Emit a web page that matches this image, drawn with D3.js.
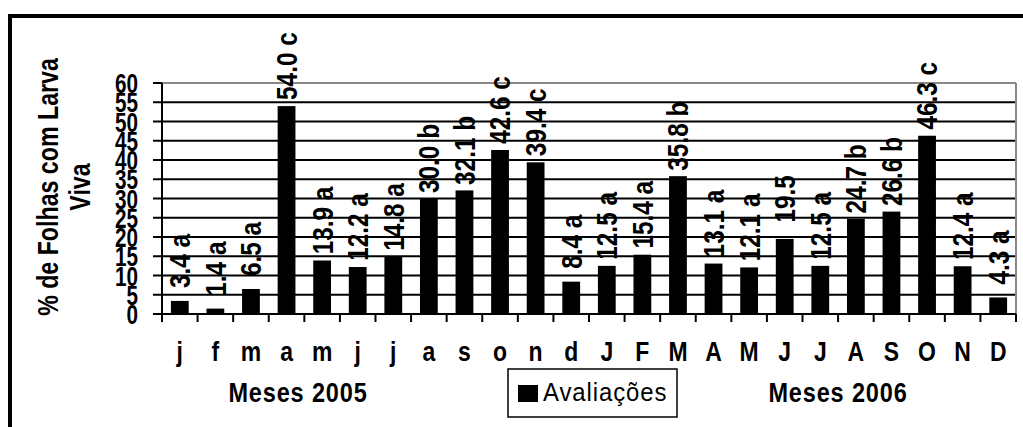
<!DOCTYPE html>
<html>
<head>
<meta charset="utf-8">
<script src="https://cdn.jsdelivr.net/npm/d3@7"></script>
<style>
  html, body { margin: 0; padding: 0; background: #fff; }
  svg { display: block; }
  text { font-family: "Liberation Sans", Arial, sans-serif; fill: #000; }
</style>
</head>
<body>
<svg id="chart" width="1023" height="427"></svg>
<script>
// ---- data ----
const months = ["j","f","m","a","m","j","j","a","s","o","n","d",
                "J","F","M","A","M","J","J","A","S","O","N","D"];
const values = [3.4,1.4,6.5,54.0,13.9,12.2,14.8,30.0,32.1,42.6,39.4,8.4,
                12.5,15.4,35.8,13.1,12.1,19.5,12.5,24.7,26.6,46.3,12.4,4.3];
const letters = ["a","a","a","c","a","a","a","b","b","c","c","a",
                 "a","a","b","a","a","","a","b","b","c","a","a"];
const yTicks = [0,5,10,15,20,25,30,35,40,45,50,55,60];
const yTitle = ["% de Folhas com Larva", "Viva"];
const groupTitles = ["Meses 2005", "Meses 2006"];
const legendLabel = "Avaliações";

// ---- layout ----
const svg = d3.select("#chart");
const L = 162, R = 1016, T = 83, B = 314;
const ids = months.map((m, i) => i);

const x = d3.scaleBand().domain(ids).range([L, R]).paddingInner(0.5).paddingOuter(0.25);
const y = d3.scaleLinear().domain([0, 60]).range([B, T]);
const step = x.step();

// outer chart border
svg.append("rect").attr("x", 10).attr("y", 16).attr("width", 1100).attr("height", 500)
  .attr("fill", "none").attr("stroke", "#000").attr("stroke-width", 4);

// gridlines
svg.append("g").selectAll("line").data(yTicks.filter(d => d > 0 && d < 60)).join("line")
  .attr("x1", L).attr("x2", R).attr("y1", d => y(d)).attr("y2", d => y(d))
  .attr("stroke", "#000").attr("stroke-width", 2);

// plot border (gray top & right)
svg.append("line").attr("x1", L).attr("x2", R).attr("y1", y(60)).attr("y2", y(60))
  .attr("stroke", "#888").attr("stroke-width", 2);
svg.append("line").attr("x1", R).attr("x2", R).attr("y1", T).attr("y2", B)
  .attr("stroke", "#888").attr("stroke-width", 2);

// bars
svg.append("g").selectAll("rect").data(ids).join("rect")
  .attr("x", i => x(i)).attr("width", x.bandwidth())
  .attr("y", i => y(values[i])).attr("height", i => B - y(values[i]))
  .attr("fill", "#000");

// axes lines
svg.append("line").attr("x1", L).attr("x2", L).attr("y1", T).attr("y2", B)
  .attr("stroke", "#000").attr("stroke-width", 2);
svg.append("line").attr("x1", L).attr("x2", R).attr("y1", B).attr("y2", B)
  .attr("stroke", "#000").attr("stroke-width", 2);

// y ticks
svg.append("g").selectAll("line").data(yTicks).join("line")
  .attr("x1", L - 9).attr("x2", L).attr("y1", d => y(d)).attr("y2", d => y(d))
  .attr("stroke", "#000").attr("stroke-width", 2);

// x ticks at band boundaries
const bounds = d3.range(months.length + 1).map(k => L + k * step);
svg.append("g").selectAll("line").data(bounds).join("line")
  .attr("x1", d => d).attr("x2", d => d).attr("y1", B).attr("y2", B + 8)
  .attr("stroke", "#000").attr("stroke-width", 2);

// y tick labels (tall narrow bold)
svg.append("g").selectAll("text").data(yTicks).join("text")
  .attr("transform", d => `translate(138,${y(d)}) scale(0.74,1)`)
  .attr("text-anchor", "end").attr("dy", "0.36em")
  .style("font-size", "28px").style("font-weight", "bold")
  .text(d => d);

// x labels
svg.append("g").selectAll("text").data(ids).join("text")
  .attr("transform", i => `translate(${x(i) + x.bandwidth() / 2},361) scale(0.82,1)`)
  .attr("text-anchor", "middle")
  .style("font-size", "28px").style("font-weight", "bold")
  .text(i => months[i]);

// value labels (rotated)
svg.append("g").selectAll("text").data(ids).join("text")
  .attr("transform", i => `translate(${x(i) + x.bandwidth() / 2},${y(values[i]) - 40}) rotate(-90) scale(0.84,1)`)
  .attr("text-anchor", "middle").attr("dy", "0.36em")
  .style("font-size", "29px").style("font-weight", "bold")
  .text(i => values[i].toFixed(1) + (letters[i] ? " " + letters[i] : ""));

// y axis title (two lines, rotated)
const titleY = 187;
svg.append("text")
  .attr("transform", `translate(58,${titleY}) rotate(-90) scale(0.8,1)`)
  .attr("text-anchor", "middle")
  .style("font-size", "29px").style("font-weight", "bold")
  .text(yTitle[0]);
svg.append("text")
  .attr("transform", `translate(90,${titleY}) rotate(-90) scale(0.8,1)`)
  .attr("text-anchor", "middle")
  .style("font-size", "29px").style("font-weight", "bold")
  .text(yTitle[1]);

// group titles
svg.append("g").selectAll("text").data(groupTitles).join("text")
  .attr("transform", (d, k) => `translate(${k === 0 ? 298 : 838},402) scale(0.84,1)`)
  .attr("text-anchor", "middle")
  .style("font-size", "28px").style("font-weight", "bold")
  .style("letter-spacing", "1px")
  .text(d => d);

// legend
const lg = svg.append("g");
lg.append("rect").attr("x", 508).attr("y", 369).attr("width", 169).attr("height", 48)
  .attr("fill", "#fff").attr("stroke", "#000").attr("stroke-width", 1.5);
lg.append("rect").attr("x", 518).attr("y", 385).attr("width", 20).attr("height", 17)
  .attr("fill", "#000");
lg.append("text").attr("transform", "translate(543,401) scale(0.92,1)")
  .style("font-size", "26px").style("letter-spacing", "1px")
  .text(legendLabel);
</script>
</body>
</html>
